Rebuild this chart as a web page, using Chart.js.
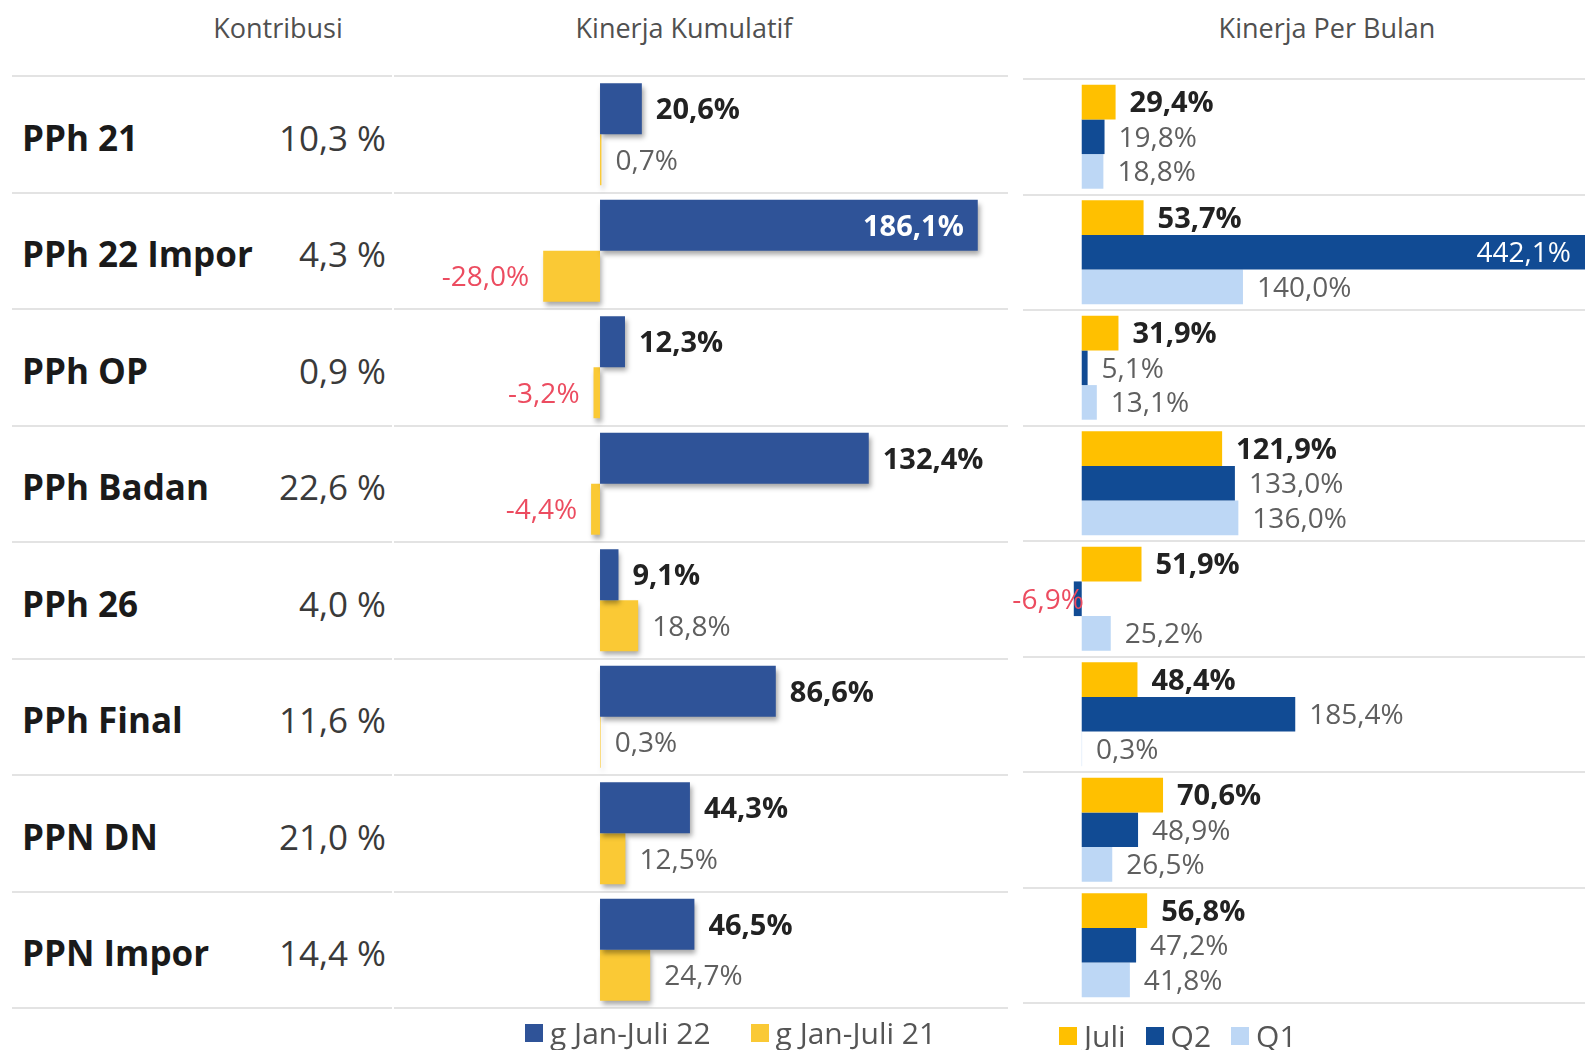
<!DOCTYPE html>
<html>
<head>
<meta charset="utf-8">
<script src="https://cdn.jsdelivr.net/npm/chart.js@4.4.1/dist/chart.umd.min.js"></script>
<style>
  body { margin: 0; background: #fff; font-family: 'Open Sans', sans-serif; }
  #page { position: relative; width: 1585px; height: 1050px; overflow: hidden; }
  .head { position: absolute; top: 9px; font-size: 27px; color: #505050; transform: translateX(-50%); white-space: nowrap; }
  #table { position: absolute; left: 12px; top: 75px; width: 380px; }
  .row { position: relative; height: 114.5px; border-top: 2px solid #e3e3e3; }
  .row:last-child { border-bottom: 2px solid #e3e3e3; }
  .row .nm { position: absolute; left: 10px; top: 52%; transform: translateY(-50%); font-weight: 700; font-size: 35px; color: #1a1a1a; white-space: nowrap; }
  .row .vl { position: absolute; right: 6px; top: 52%; transform: translateY(-50%); font-size: 35px; color: #3a3a3a; white-space: nowrap; }
  .box { position: absolute; }
  .legend { position: absolute; display: flex; align-items: center; font-size: 30px; color: #555; white-space: nowrap; }
  .legend span.sw { display: inline-block; width: 18px; height: 18px; margin-right: 7px; }
  .legend .it { display: flex; align-items: center; }
</style>
</head>
<body>
<div id="page">
  <div class="head" style="left:278px">Kontribusi</div>
  <div class="head" style="left:684px">Kinerja Kumulatif</div>
  <div class="head" style="left:1327px">Kinerja Per Bulan</div>
  <div id="table"></div>
  <div class="box" style="left:394px; top:70px; width:614px; height:944px;"><canvas id="kumulatif"></canvas></div>
  <div class="box" style="left:995px; top:73px; width:590px; height:936px;"><canvas id="perbulan"></canvas></div>
  <div class="legend" id="legKum" style="left:525px; top:1012px;"></div>
  <div class="legend" id="legBul" style="left:1059px; top:1015px;"></div>
</div>
<script>
// ========== Data
let categories = ['PPh 21', 'PPh 22 Impor', 'PPh OP', 'PPh Badan', 'PPh 26', 'PPh Final', 'PPN DN', 'PPN Impor'];
let kontribusi = [10.3, 4.3, 0.9, 22.6, 4.0, 11.6, 21.0, 14.4];

let kumLabels = ['g Jan-Juli 22', 'g Jan-Juli 21'];
let kum22 = [20.6, 186.1, 12.3, 132.4, 9.1, 86.6, 44.3, 46.5];
let kum21 = [0.7, -28.0, -3.2, -4.4, 18.8, 0.3, 12.5, 24.7];

let bulanLabels = ['Juli', 'Q2', 'Q1'];
let juli = [29.4, 53.7, 31.9, 121.9, 51.9, 48.4, 70.6, 56.8];
let q2 = [19.8, 442.1, 5.1, 133.0, -6.9, 185.4, 48.9, 47.2];
let q1 = [18.8, 140.0, 13.1, 136.0, 25.2, 0.3, 26.5, 41.8];

// ========== Colors
let blueColor = '#2F5398';
let yellowColor = '#FAC935';
let juliColor = '#FFC000';
let q2Color = '#114B94';
let q1Color = '#BDD7F5';
let negColor = '#EC4C60';
let gridColor = '#E3E3E3';

const fmt = (v, sep) => v.toFixed(1).replace('.', ',') + (sep || '') + '%';

// ========== Kontribusi table (left)
let table = document.getElementById('table');
categories.forEach((c, i) => {
    let r = document.createElement('div');
    r.className = 'row';
    r.innerHTML = '<span class="nm">' + c + '</span><span class="vl">' + fmt(kontribusi[i], ' ') + '</span>';
    table.appendChild(r);
});

// ========== Plugins
const shadowPlugin = {
    id: 'barShadow',
    beforeDatasetsDraw(chart, args, opts) {
        if (!opts.on) return;
        let c = chart.ctx;
        c.save();
        c.shadowColor = 'rgba(0,0,0,0.35)';
        c.shadowBlur = 5;
        c.shadowOffsetX = 2;
        c.shadowOffsetY = 4;
    },
    afterDatasetsDraw(chart, args, opts) {
        if (opts.on) chart.ctx.restore();
    }
};

const labelPlugin = {
    id: 'barLabels',
    afterDraw(chart, args, opts) {
        let ctx = chart.ctx;
        let area = chart.chartArea;
        chart.data.datasets.forEach((ds, di) => {
            let meta = chart.getDatasetMeta(di);
            let st = opts.styles[di];
            meta.data.forEach((bar, i) => {
                let v = ds.data[i];
                let text = fmt(v);
                ctx.save();
                ctx.shadowColor = 'transparent';
                ctx.font = st.font;
                ctx.textBaseline = 'middle';
                let w = ctx.measureText(text).width;
                let end = Math.min(bar.x, area.right);
                let y = bar.y + 2;
                if (v < 0) {
                    ctx.fillStyle = negColor;
                    ctx.textAlign = 'right';
                    ctx.fillText(text, end - opts.negGap, y);
                } else if (end + opts.gap + w > area.right) {
                    ctx.fillStyle = '#ffffff';
                    ctx.textAlign = 'right';
                    ctx.fillText(text, end - 14, y);
                } else {
                    ctx.fillStyle = st.color;
                    ctx.textAlign = 'left';
                    ctx.fillText(text, end + opts.gap, y);
                }
                ctx.restore();
            });
        });
    }
};

const boldFont = "bold 29px 'Open Sans'";
const normFont = "28px 'Open Sans'";

// ========== Kinerja Kumulatif
let kumData = {
    labels: categories,
    datasets: [
        { label: kumLabels[0], data: kum22, backgroundColor: blueColor },
        { label: kumLabels[1], data: kum21, backgroundColor: yellowColor }
    ]
};
new Chart(document.getElementById('kumulatif'), {
    type: 'bar',
    data: kumData,
    plugins: [shadowPlugin, labelPlugin],
    options: {
        indexAxis: 'y',
        responsive: true,
        maintainAspectRatio: false,
        animation: false,
        layout: { padding: { top: 6, bottom: 6, left: 0, right: 0 } },
        datasets: { bar: { categoryPercentage: 0.875, barPercentage: 1.0 } },
        scales: {
            x: {
                min: -101.5, max: 201,
                ticks: { display: false, stepSize: 101.5 },
                grid: { drawTicks: false, lineWidth: 1.5, color: (c) => (c.tick && c.tick.value === 0) ? '#D6D6D6' : 'transparent' },
                border: { display: false }
            },
            y: {
                ticks: { display: false },
                grid: { offset: true, drawTicks: false, color: gridColor, lineWidth: 2 },
                border: { display: false }
            }
        },
        plugins: {
            legend: { display: false },
            tooltip: { enabled: false },
            barShadow: { on: true },
            barLabels: {
                gap: 14, negGap: 14,
                styles: [
                    { font: boldFont, color: '#222222' },
                    { font: normFont, color: '#5F5F5F' }
                ]
            }
        }
    }
});

// ========== Kinerja Per Bulan
let bulanData = {
    labels: categories,
    datasets: [
        { label: bulanLabels[0], data: juli, backgroundColor: juliColor },
        { label: bulanLabels[1], data: q2, backgroundColor: q2Color },
        { label: bulanLabels[2], data: q1, backgroundColor: q1Color }
    ]
};
new Chart(document.getElementById('perbulan'), {
    type: 'bar',
    data: bulanData,
    plugins: [labelPlugin],
    options: {
        indexAxis: 'y',
        responsive: true,
        maintainAspectRatio: false,
        animation: false,
        layout: { padding: { top: 6, bottom: 6, left: 28, right: 0 } },
        datasets: { bar: { categoryPercentage: 0.9, barPercentage: 1.0 } },
        scales: {
            x: {
                min: -51, max: 437,
                ticks: { display: false },
                grid: { display: false, drawTicks: false },
                border: { display: false }
            },
            y: {
                ticks: { display: false },
                grid: { offset: true, drawTicks: false, color: gridColor, lineWidth: 2 },
                border: { display: false }
            }
        },
        plugins: {
            legend: { display: false },
            tooltip: { enabled: false },
            barLabels: {
                gap: 14, negGap: -10,
                styles: [
                    { font: boldFont, color: '#222222' },
                    { font: normFont, color: '#5F5F5F' },
                    { font: normFont, color: '#5F5F5F' }
                ]
            }
        }
    }
});

// ========== Legends
function buildLegend(id, data, gap) {
    let el = document.getElementById(id);
    data.datasets.forEach((ds, i) => {
        let it = document.createElement('div');
        it.className = 'it';
        if (i > 0) it.style.marginLeft = gap + 'px';
        it.innerHTML = '<span class="sw" style="background:' + ds.backgroundColor + '"></span>' + ds.label;
        el.appendChild(it);
    });
}
buildLegend('legKum', kumData, 40);
buildLegend('legBul', bulanData, 20);
</script>
</body>
</html>
